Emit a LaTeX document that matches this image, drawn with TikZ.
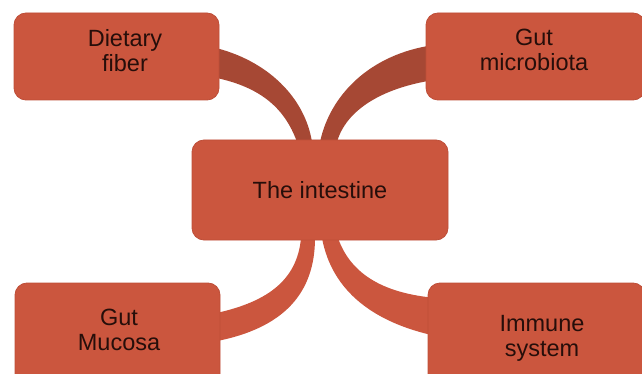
\documentclass[tikz,border=0pt]{standalone}
\usepackage{fontspec}
\setmainfont{Liberation Sans}
\definecolor{boxfill}{RGB}{203,86,62}
\definecolor{boxline}{RGB}{190,78,56}
\definecolor{darkcon}{RGB}{166,72,52}
\definecolor{txtcol}{RGB}{38,14,10}
\tikzset{
  boxst/.style={draw=boxline, line width=0.8pt, fill=boxfill, rounded corners=12pt},
  txt/.style={text=txtcol, align=center, font=\fontsize{23.5}{25}\selectfont, inner sep=0pt},
  darkband/.style={fill=darkcon, draw=none},
  lightband/.style={fill=boxfill, draw=none}
}
\begin{document}
\begin{tikzpicture}[x=1pt,y=-1pt]
\useasboundingbox (0,0) rectangle (642,374);
\clip (0,0) rectangle (642,374);
% connector end points
\coordinate (tl1) at (212,47); \coordinate (tl2) at (212,77);
\coordinate (tr1) at (434,45); \coordinate (tr2) at (434,80);
\coordinate (it1) at (297,142); \coordinate (it2) at (312,142);
\coordinate (it3) at (320,142); \coordinate (it4) at (337,142);
\coordinate (ib1) at (301,238); \coordinate (ib2) at (315,238);
\coordinate (ib3) at (322,238); \coordinate (ib4) at (338,238);
\coordinate (bl1) at (212,314); \coordinate (bl2) at (212,342);
\coordinate (br1) at (436,298); \coordinate (br2) at (436,336);
% top-left band
\fill[darkband] (tl1) .. controls (268,60) and (305,98) .. (it2)
  -- (it1) .. controls (284,106) and (258,86) .. (tl2) -- cycle;
% top-right band
\fill[darkband] (tr1) .. controls (370,54) and (330,95) .. (it3)
  -- (it4) .. controls (346,110) and (382,88) .. (tr2) -- cycle;
% bottom-left band
\fill[lightband] (ib1) .. controls (297,282) and (265,303) .. (bl1)
  -- (bl2) .. controls (285,329) and (315,292) .. (ib2) -- cycle;
% bottom-right band
\fill[lightband] (ib4) .. controls (350,272) and (380,293) .. (br1)
  -- (br2) .. controls (375,323) and (332,292) .. (ib3) -- cycle;
% boxes
\draw[boxst] (14,13) rectangle (219,100);
\node[txt] (df) at (125,51) {Dietary\\fiber};
\draw[boxst] (426,13) rectangle (645,100);
\node[txt] (gm) at (534,50) {Gut\\microbiota};
\draw[boxst] (192,140) rectangle (448,240);
\node[txt] (in) at (320,190) {The intestine};
\draw[boxst] (15,283) rectangle (220,400);
\node[txt] (mu) at (119,330) {Gut\\Mucosa};
\draw[boxst] (428,283) rectangle (645,400);
\node[txt] (im) at (542,338) {Immune\\system};
\end{tikzpicture}
\end{document}
